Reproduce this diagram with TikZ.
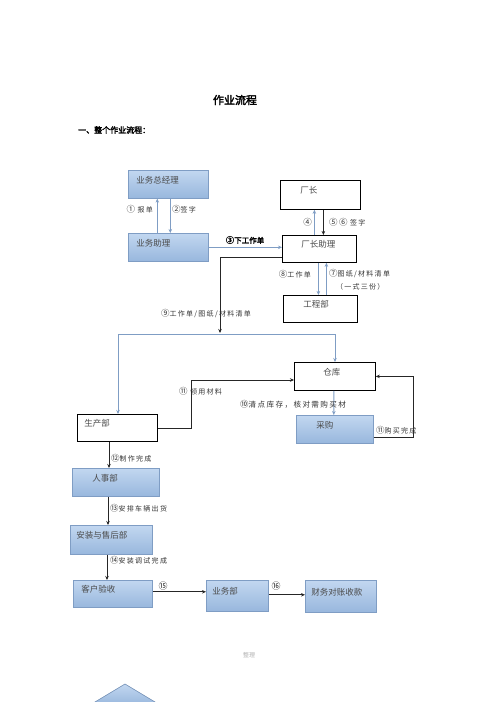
\documentclass[tikz,border=0pt]{standalone}
\usepackage{fontspec}
\setmainfont{Noto Sans CJK SC}
\newfontfamily\cjkbold[FakeBold=2.5]{Noto Sans CJK SC}
\newfontfamily\cjklab[LetterSpace=18]{Noto Sans CJK SC}
\usetikzlibrary{arrows.meta}
\definecolor{bfillA}{HTML}{C2D7F0}
\definecolor{bfillB}{HTML}{98B7DD}
\definecolor{bdraw}{HTML}{7F9DC4}
\definecolor{bline}{HTML}{7F9DC4}
\definecolor{btext}{HTML}{4A4A4A}
\newcommand{\cn}[1]{{\fontsize{8.5}{8}\selectfont #1}}
\tikzset{
  boxbase/.style={anchor=north west, inner ysep=0pt, align=left, text height=7pt, text depth=9pt,
    font=\fontsize{8.5}{10}\selectfont, text=btext},
  bluebox/.style={boxbase, draw=bdraw, line width=0.6pt, top color=bfillA, bottom color=bfillB},
  whitebox/.style={boxbase, draw=black, line width=0.8pt, fill=white},
  bluearr/.style={draw=bline, line width=0.9pt, -{Stealth[length=4pt,width=3.5pt]}},
  blackarr/.style={draw=black!85, line width=0.8pt, -{Stealth[length=4pt,width=3.5pt]}},
  lab/.style={font=\cjklab\fontsize{7}{8}\selectfont, text=black!80, inner sep=0pt},
  bigno/.style={font=\fontsize{9}{9}\selectfont, text=black!85, inner sep=0pt},
}
\begin{document}
\begin{tikzpicture}[x=1pt,y=-1pt]
\useasboundingbox (0,0) rectangle (496,702);
\fill[white] (0,0) rectangle (496,702);

% headings
\node[font=\cjkbold\fontsize{11}{12}\selectfont, inner sep=0pt] (title) at (235,100) {作业流程};
\node[font=\cjkbold\fontsize{8}{9}\selectfont, anchor=west, inner sep=0pt] (sec) at (78,130) {一、整个作业流程：};

% boxes
\node[bluebox, minimum width=80pt, minimum height=28pt, text width=64pt, inner xsep=8pt] (zjl) at (128,170) {业务总经理};
\node[bluebox, minimum width=80pt, minimum height=28pt, text width=64pt, inner xsep=8pt] (yw) at (128,233) {业务助理};
\node[whitebox, minimum width=80pt, minimum height=29pt, text width=40pt, inner xsep=20pt] (cz) at (280,180) {厂长};
\node[whitebox, minimum width=74pt, minimum height=27pt, text width=36pt, inner xsep=19pt] (czz) at (282,235) {厂长助理};
\node[whitebox, minimum width=74pt, minimum height=27pt, text width=34pt, inner xsep=20pt] (gcb) at (283,295) {工程部};
\node[whitebox, minimum width=81pt, minimum height=28pt, text width=23pt, inner xsep=29pt] (ck) at (294,362) {仓库};
\node[bluebox, minimum width=77pt, minimum height=28pt, text width=37pt, inner xsep=20pt] (cg) at (296,415) {采购};
\node[whitebox, minimum width=80pt, minimum height=27pt, text width=66pt, inner xsep=7pt] (sc) at (77,414) {生产部};
\node[bluebox, minimum width=87pt, minimum height=28pt, text width=47pt, inner xsep=20pt] (rs) at (72,468) {人事部};
\node[bluebox, minimum width=82pt, minimum height=29pt, text width=70pt, inner xsep=6pt] (az) at (70,525) {安装与售后部};
\node[bluebox, minimum width=79pt, minimum height=27pt, text width=63pt, inner xsep=8pt] (kh) at (73,580) {客户验收};
\node[bluebox, minimum width=62pt, minimum height=31pt, text width=50pt, inner xsep=6pt] (ywb) at (206,580) {业务部};
\node[bluebox, minimum width=71pt, minimum height=32pt, text width=59pt, inner xsep=6pt] (cw) at (305,580) {财务对账收款};

% helper coordinates
\coordinate (n9) at (220,333);
\coordinate (bl) at (118,334);
\coordinate (br) at (335,334);
\coordinate (t11) at (191,380);
\coordinate (t12) at (413,437);
\coordinate (v1) at (109,0);
\coordinate (v2) at (108,0);
\coordinate (v3) at (107,0);

% connectors
\draw[bluearr] ([xshift=-11pt]yw.north) -- ([xshift=-11pt]zjl.south);
\draw[bluearr] ([xshift=2pt]zjl.south) -- ([xshift=2pt]yw.north);
\draw[bluearr] (yw.east) -- (yw.east -| czz.west);
\draw[bluearr] ([xshift=-5pt]czz.north) -- ([xshift=-6pt]cz.south);
\draw[blackarr] ([xshift=3pt]cz.south) -- ([xshift=4pt]czz.north);
\draw[bluearr] ([xshift=-1pt]czz.south) -- ([xshift=-2pt]gcb.north);
\draw[bluearr] ([xshift=6pt]gcb.north) -- ([xshift=7pt]czz.south);
\draw[blackarr] ([yshift=-8pt]czz.west) -| (n9);
\draw[bluearr] (bl) -- (bl |- sc.north);
\draw[bluearr] (bl) -- (br) -- (br |- ck.north);
\draw[bluearr] ([xshift=-1pt]ck.south) -- ([xshift=-1pt]cg.north);
\draw[blackarr] (sc.east) -| (t11) -- (t11 -| ck.west);
\draw[blackarr] (t12 -| cg.east) -- (t12) |- (ck.east);
\draw[blackarr] (sc.south -| v1) -- (rs.north -| v1);
\draw[blackarr] (rs.south -| v2) -- (az.north -| v2);
\draw[blackarr] (az.south -| v3) -- (kh.north -| v3);
\draw[blackarr] ([yshift=2pt]kh.east) -- ([yshift=2pt]kh.east -| ywb.west);
\draw[blackarr] ([yshift=1pt]ywb.east) -- ([yshift=1pt]ywb.east -| cw.west);

% labels
\node[lab, anchor=east] (l1) at (153,209) {\cn{①}\,\,报单};
\node[lab, anchor=west] (l2) at (172,209) {\cn{②}签字};
\node[font=\cjkbold\fontsize{7.5}{8}\selectfont, inner sep=0pt] (l3) at (245,240) {\cn{③}下工作单};
\node[lab, anchor=east] (l4) at (312,222) {\cn{④}};
\node[lab, anchor=west] (l56) at (329,222) {\cn{⑤⑥}\,\,签字};
\node[lab, anchor=east] (l8) at (311,274) {\cn{⑧}工作单};
\node[lab, anchor=west] (l7) at (329,274) {\cn{⑦}图纸/材料清单};
\node[lab, anchor=west] (l7b) at (336,287) {（一式三份）};
\node[lab, anchor=west] (l9) at (161,314) {\cn{⑨}工作单/图纸/材料清单};
\node[lab, anchor=west] (l11a) at (179,391) {\cn{⑪}\,\,领用材料};
\node[lab, anchor=west, font=\cjklab\fontsize{7.6}{8}\selectfont] (l10) at (240,404) {\cn{⑩}清点库存，核对需购买材};
\node[lab, anchor=west] (l11b) at (376,430) {\cn{⑪}购买完成};
\node[lab, anchor=west] (l12) at (111,458) {\cn{⑫}制作完成};
\node[lab, anchor=west] (l13) at (110,508) {\cn{⑬}安排车辆出货};
\node[lab, anchor=west] (l14) at (110,560) {\cn{⑭}安装调试完成};
\node[bigno] (l15) at (163,586) {⑮};
\node[bigno] (l16) at (276,586) {⑯};
\node[font=\fontsize{6}{7}\selectfont, text=black!30, inner sep=0pt] (foot) at (249,655) {整理};

% partial shape at bottom edge
\fill[top color=bfillA, bottom color=bfillB] (125,684) -- (160,705) -- (90,705) -- cycle;
\draw[bdraw, line width=0.6pt] (90,705) -- (125,684) -- (160,705);
\end{tikzpicture}
\end{document}
